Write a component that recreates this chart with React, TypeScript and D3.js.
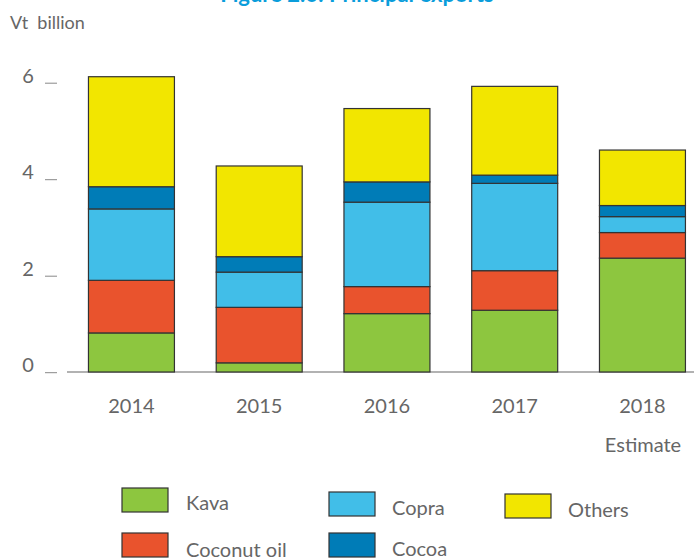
import React, { useEffect, useRef } from "react";
import { scaleBand, scaleLinear, select, stack } from "d3";

const years = ["2014", "2015", "2016", "2017", "2018"];
const kava = [0.81, 0.19, 1.21, 1.28, 2.36];
const coconutOil = [1.09, 1.15, 0.56, 0.82, 0.53];
const copra = [1.48, 0.73, 1.75, 1.81, 0.33];
const cocoa = [0.46, 0.32, 0.42, 0.17, 0.23];
const others = [2.28, 1.88, 1.52, 1.84, 1.15];
const yTicks = [0, 2, 4, 6];

const seriesNames = ["Kava", "Coconut oil", "Copra", "Cocoa", "Others"];
const seriesValues = [kava, coconutOil, copra, cocoa, others];
const colors = ["#8dc63f", "#e9532d", "#41bee8", "#007cb7", "#f2e600"];

export default function App() {
  const ref = useRef<SVGSVGElement>(null);

  useEffect(() => {
    const svg = select(ref.current);
    svg.selectAll("*").remove();
    const font = "Lato, 'Open Sans', sans-serif";
    const grey = "#666";

    const rows = years.map((year, i) => {
      const r: any = { year };
      seriesNames.forEach((s, k) => (r[s] = seriesValues[k][i]));
      return r;
    });

    const x = scaleBand()
      .domain(years)
      .range([46.3, 727.6])
      .paddingInner(0.327)
      .paddingOuter(0.33);
    const y = scaleLinear().domain([0, 6]).range([372, 82.5]);

    // title (cut off at top)
    svg
      .append("text")
      .attr("x", 357)
      .attr("y", 2)
      .attr("text-anchor", "middle")
      .attr("font-family", font)
      .attr("font-weight", "bold")
      .attr("font-size", 22)
      .attr("fill", "#0a9ddb")
      .text("Figure 2.6: Principal exports");

    svg
      .append("text")
      .attr("x", 10)
      .attr("y", 29)
      .attr("font-family", font)
      .attr("font-size", 18)
      .attr("fill", grey)
      .attr("xml:space", "preserve")
      .style("white-space", "pre")
      .text("Vt  billion");

    // y ticks
    const yt = svg.append("g");
    yTicks.forEach((t) => {
      yt.append("text")
        .attr("x", 28)
        .attr("y", y(t))
        .attr("text-anchor", "middle")
        .attr("font-family", font)
        .attr("font-size", 20)
        .attr("fill", grey)
        .text(t);
      yt.append("line")
        .attr("x1", 45)
        .attr("x2", 57)
        .attr("y1", y(t) + 0.7)
        .attr("y2", y(t) + 0.7)
        .attr("stroke", "#888")
        .attr("stroke-width", 1);
    });

    // baseline
    svg
      .append("line")
      .attr("x1", 67)
      .attr("x2", 694)
      .attr("y1", y(0))
      .attr("y2", y(0))
      .attr("stroke", "#999")
      .attr("stroke-width", 1.5);

    const layers = stack<any>().keys(seriesNames)(rows);
    svg
      .append("g")
      .selectAll("g")
      .data(layers)
      .join("g")
      .attr("fill", (d, i) => colors[i])
      .selectAll("rect")
      .data((d) => d)
      .join("rect")
      .attr("x", (d) => x(d.data.year)!)
      .attr("width", x.bandwidth())
      .attr("y", (d) => y(d[1]))
      .attr("height", (d) => y(d[0]) - y(d[1]))
      .attr("stroke", "#333")
      .attr("stroke-width", 1.2);

    // x labels
    svg
      .append("g")
      .selectAll("text")
      .data(years)
      .join("text")
      .attr("x", (d) => x(d)! + x.bandwidth() / 2)
      .attr("y", 413)
      .attr("text-anchor", "middle")
      .attr("font-family", font)
      .attr("font-size", 20)
      .attr("fill", grey)
      .text((d) => d);

    svg
      .append("text")
      .attr("x", 643)
      .attr("y", 452)
      .attr("text-anchor", "middle")
      .attr("font-family", font)
      .attr("font-size", 20)
      .attr("fill", grey)
      .text("Estimate");

    // legend
    const legendPos = [
      { sx: 122, sy: 488, tx: 186, ty: 510 },
      { sx: 122, sy: 533, tx: 186, ty: 557 },
      { sx: 329, sy: 492, tx: 392, ty: 515 },
      { sx: 329, sy: 533, tx: 392, ty: 556 },
      { sx: 505, sy: 494, tx: 568, ty: 517 },
    ];
    const lg = svg.append("g");
    seriesNames.forEach((s, i) => {
      const p = legendPos[i];
      lg.append("rect")
        .attr("x", p.sx)
        .attr("y", p.sy)
        .attr("width", 46)
        .attr("height", 24)
        .attr("fill", colors[i])
        .attr("stroke", "#333")
        .attr("stroke-width", 1.2);
      lg.append("text")
        .attr("x", p.tx)
        .attr("y", p.ty)
        .attr("font-family", font)
        .attr("font-size", 20)
        .attr("fill", grey)
        .text(s);
    });
  }, []);

  return (
    <svg
      ref={ref}
      width={694}
      height={560}
      style={{ position: "absolute", left: 0, top: 0, background: "#fff" }}
    />
  );
}
